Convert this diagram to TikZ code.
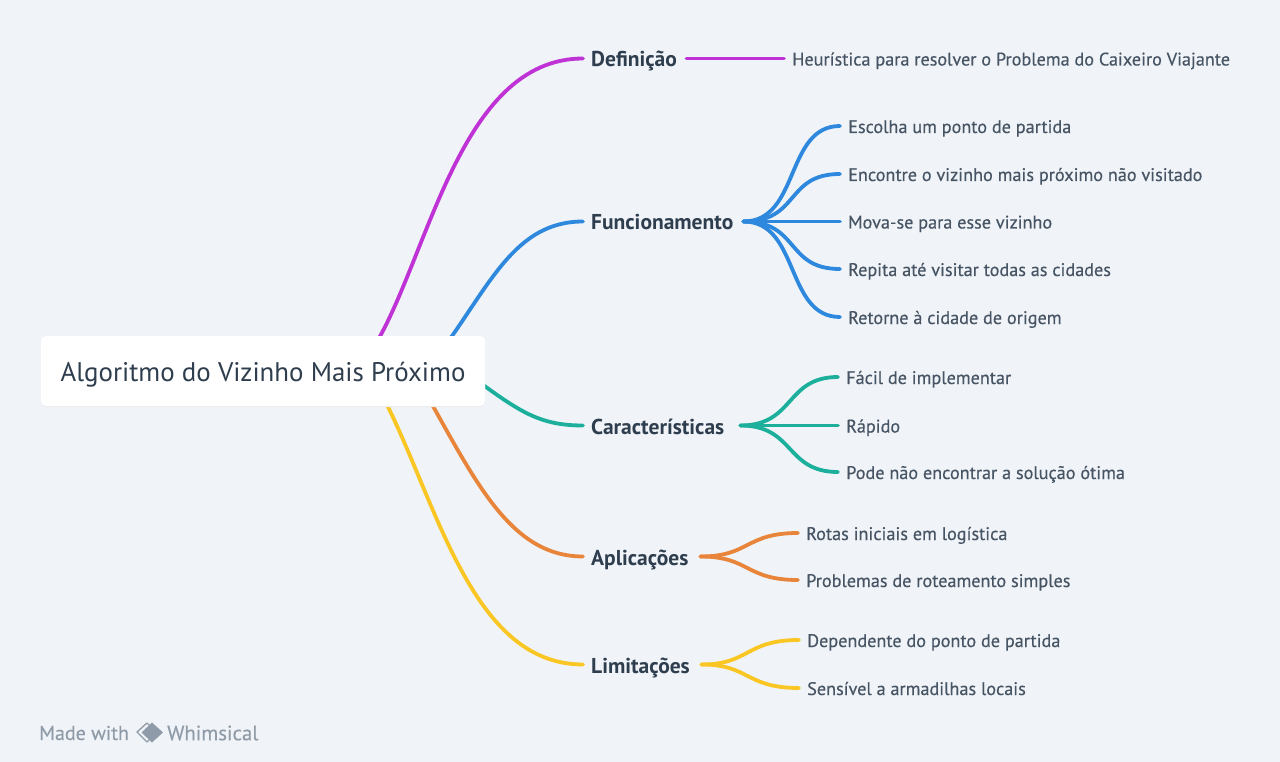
\documentclass[tikz,border=0pt]{standalone}
\usepackage{fontspec}
\setmainfont{PT Sans}
\newfontfamily\medfont{PT Sans}[FakeBold=0.35]
\definecolor{bgpage}{HTML}{F0F4F8}
\definecolor{inkroot}{HTML}{2F3E4E}
\definecolor{inkleaf}{HTML}{465464}
\definecolor{inkmark}{HTML}{8F9BA8}
\definecolor{cdef}{HTML}{BF33D6}
\definecolor{cfun}{HTML}{2D88DE}
\definecolor{ccar}{HTML}{1CB09C}
\definecolor{capl}{HTML}{E8853A}
\definecolor{clim}{HTML}{F9C623}
\tikzset{
	link/.style={line width=3.8pt, line cap=round},
	rootbox/.style={fill=white, rounded corners=5pt, minimum width=444pt, minimum height=70pt, inner sep=0pt, text=inkroot, text height=22pt, text depth=2pt, font=\fontsize{26.9}{30}\selectfont},
	branch/.style={anchor=west, inner xsep=8pt, inner ysep=0pt, align=left, text=inkroot, text height=17pt, text depth=0pt, font=\fontsize{21.5}{22}\selectfont\bfseries},
	leaf/.style={anchor=west, inner xsep=8pt, inner ysep=0pt, text=inkleaf, text height=14pt, text depth=0pt, font=\fontsize{18.2}{20}\medfont},
}
\begin{document}
\begin{tikzpicture}[x=1pt, y=-1pt]
	\fill[bgpage] (0, 0) rectangle (1280, 762);
	\useasboundingbox (0, 0) rectangle (1280, 762);
	% branches
	\node[branch, text width=87pt] (definicao) at (583, 58.5) {Definição};
	\node[branch, text width=144pt] (funcionamento) at (583, 221.5) {Funcionamento};
	\node[branch, text width=141pt] (caracteristicas) at (583, 425.5) {Características};
	\node[branch, text width=101pt] (aplicacoes) at (583, 556.5) {Aplicações};
	\node[branch, text width=102pt] (limitacoes) at (583, 664.5) {Limitações};
	% leaves
	\node[leaf] (heuristica) at (784, 58.5) {Heurística para resolver o Problema do Caixeiro Viajante};
	\node[leaf] (f1) at (840, 126) {Escolha um ponto de partida};
	\node[leaf] (f2) at (840, 174) {Encontre o vizinho mais próximo não visitado};
	\node[leaf] (f3) at (840, 221.5) {Mova-se para esse vizinho};
	\node[leaf] (f4) at (840, 269) {Repita até visitar todas as cidades};
	\node[leaf] (f5) at (840, 317) {Retorne à cidade de origem};
	\node[leaf] (c1) at (838, 377) {Fácil de implementar};
	\node[leaf] (c2) at (838, 425.5) {Rápido};
	\node[leaf] (c3) at (838, 472) {Pode não encontrar a solução ótima};
	\node[leaf] (a1) at (798, 533) {Rotas iniciais em logística};
	\node[leaf] (a2) at (798, 580) {Problemas de roteamento simples};
	\node[leaf] (l1) at (799, 640) {Dependente do ponto de partida};
	\node[leaf] (l2) at (799, 688) {Sensível a armadilhas locais};
	% links out of the root start behind its box
	\coordinate (rootdef) at (372, 350);
	\coordinate (rootfun) at (442, 350);
	\coordinate (rootcar) at (475, 379);
	\coordinate (rootapl) at (425, 392);
	\coordinate (rootlim) at (382, 395);
	\draw[link, cdef] (rootdef) .. controls (428, 262) and (458, 58.5) .. (definicao.west);
	\draw[link, cfun] (rootfun) .. controls (490, 285) and (515, 221.5) .. (funcionamento.west);
	\draw[link, ccar] (rootcar) .. controls (520, 412) and (540, 425.5) .. (caracteristicas.west);
	\draw[link, capl] (rootapl) .. controls (475, 480) and (510, 556.5) .. (aplicacoes.west);
	\draw[link, clim] (rootlim) .. controls (437, 500) and (470, 664.5) .. (limitacoes.west);
	\draw[link, cdef] (definicao.east) -- (heuristica.west);
	\foreach \n in {f1, f2, f3, f4, f5}
		\draw[link, cfun] (funcionamento.east) .. controls (800, 221.5) and (785, 0 |- \n) .. (\n.west);
	\foreach \n in {c1, c2, c3}
		\draw[link, ccar] (caracteristicas.east) .. controls (795, 425.5) and (785, 0 |- \n) .. (\n.west);
	\foreach \n in {a1, a2}
		\draw[link, capl] (aplicacoes.east) .. controls (750, 556.5) and (745, 0 |- \n) .. (\n.west);
	\foreach \n in {l1, l2}
		\draw[link, clim] (limitacoes.east) .. controls (750, 664.5) and (745, 0 |- \n) .. (\n.west);
	% root on top
	\fill[black!8, rounded corners=5pt] (41, 337) rectangle (485, 407);
	\node[rootbox] (root) at (263, 371) {Algoritmo do Vizinho Mais Próximo};
	% footer
	\node[anchor=west, inner sep=0pt, text=inkmark, font=\fontsize{20}{22}\medfont] (made) at (39, 733) {Made with};
	\draw[inkmark, line width=1.3pt, line join=round] (147, 723) -- (137, 732) -- (147, 742);
	\draw[inkmark, line width=1.3pt, line join=round] (147, 723) -- (150, 726) (147, 742) -- (150, 739);
	\fill[inkmark] (152, 722.5) -- (163, 732.5) -- (152, 742.5) -- (141.5, 732.5) -- cycle;
	\node[anchor=west, inner sep=0pt, text=inkmark, font=\fontsize{20.8}{22}\medfont] (whimsical) at (167, 733) {Whimsical};
\end{tikzpicture}
\end{document}
